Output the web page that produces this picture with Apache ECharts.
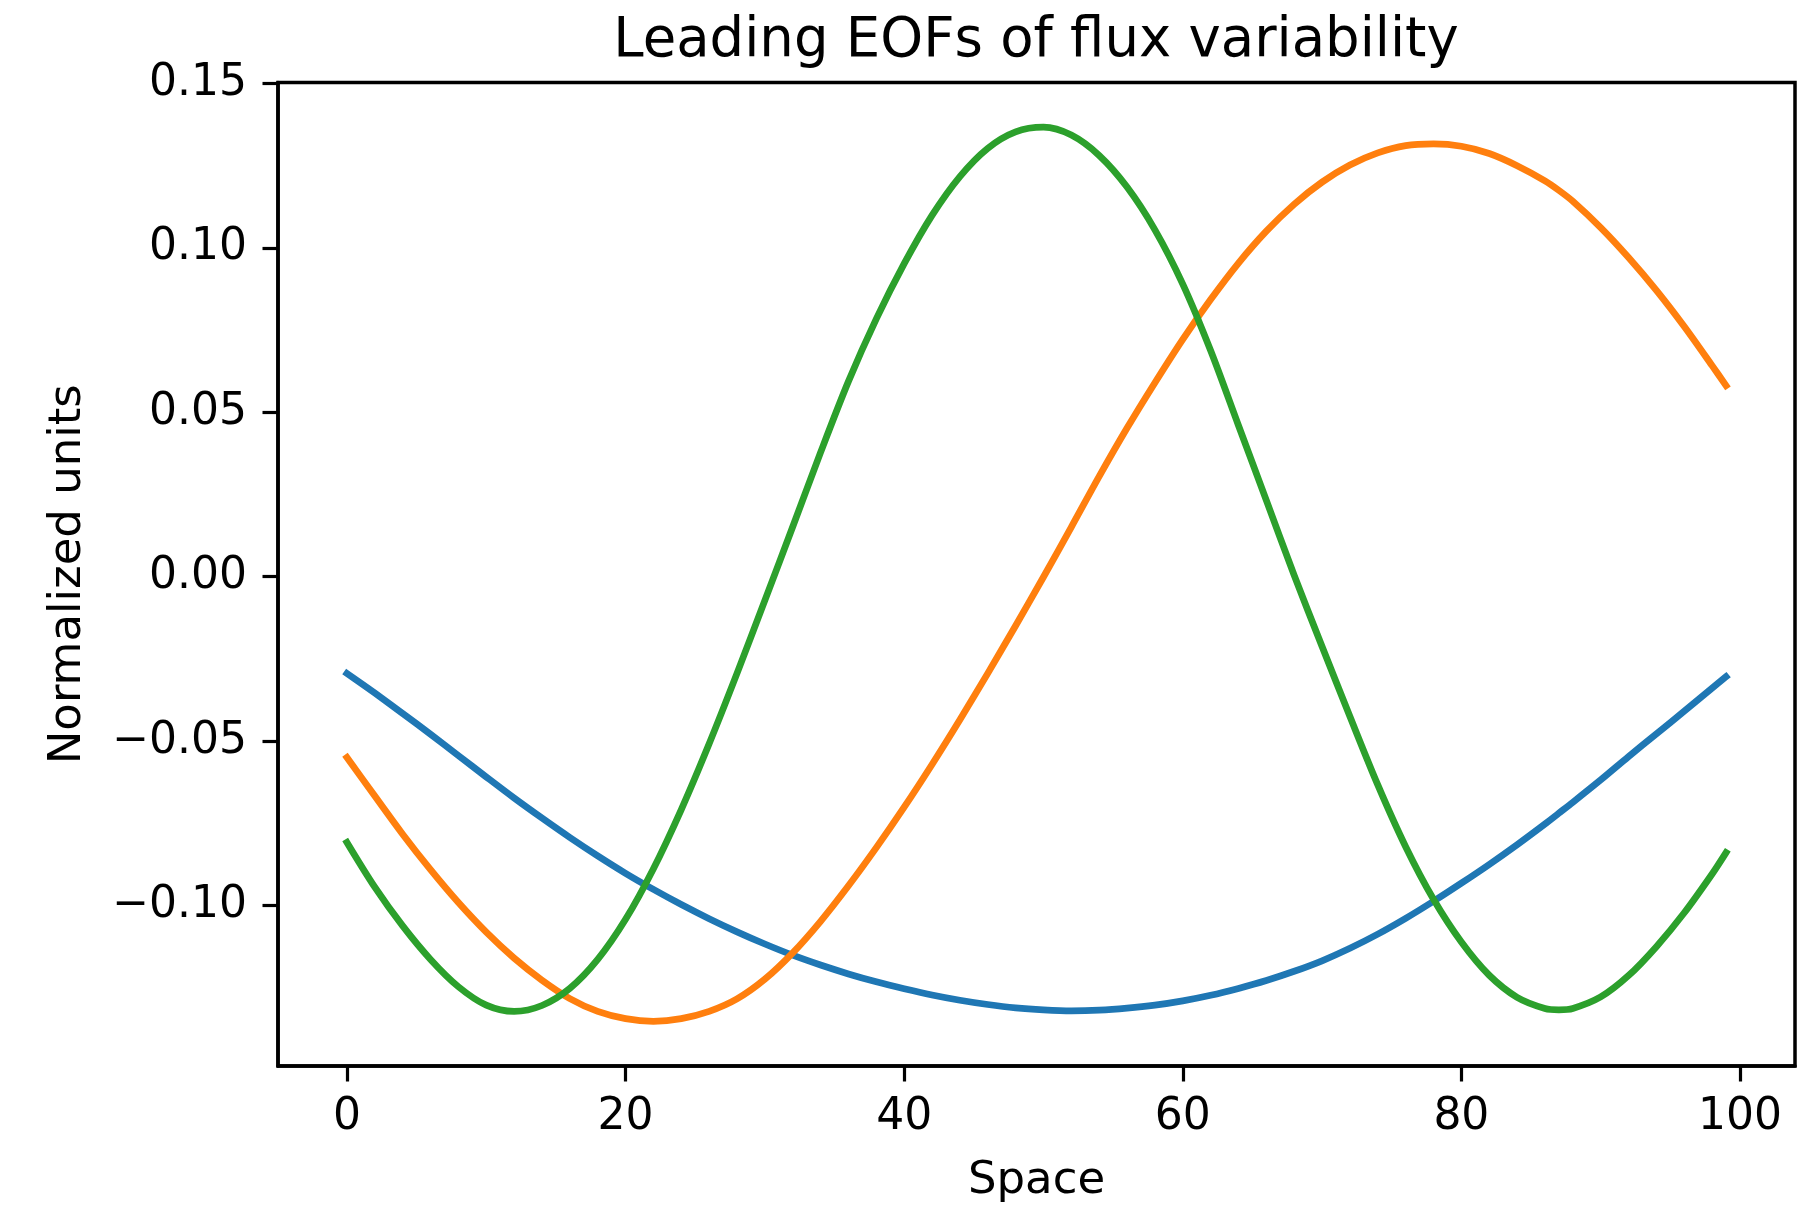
<!DOCTYPE html>
<html>
<head>
<meta charset="utf-8">
<script src="https://cdn.jsdelivr.net/npm/echarts@6/dist/echarts.min.js"></script>
<style>
html, body { margin: 0; padding: 0; background: #fff; }
#chart { width: 1819px; height: 1224px; }
</style>
</head>
<body>
<div id="chart"></div>
<script>
// Values
const space = [0, 2, 4, 6, 8, 10, 12, 14, 16, 18, 20, 22, 24, 26, 28, 30, 32, 34, 36, 38, 40, 42, 44, 46, 48, 50, 52, 54, 56, 58, 60, 62, 64, 66, 68, 70, 72, 74, 76, 78, 80, 82, 84, 86, 87, 88, 90, 92, 94, 96, 98, 99];
const eof1 = [-0.0294, -0.0354, -0.0416, -0.0479, -0.0544, -0.0609, -0.0673, -0.0734, -0.0793, -0.0849, -0.0902, -0.0951, -0.0997, -0.1040, -0.1080, -0.1117, -0.1151, -0.1181, -0.1208, -0.1232, -0.1253, -0.1272, -0.1288, -0.1301, -0.1311, -0.1317, -0.1320, -0.1318, -0.1312, -0.1303, -0.1290, -0.1273, -0.1252, -0.1228, -0.1200, -0.1168, -0.1130, -0.1087, -0.1039, -0.0987, -0.0932, -0.0875, -0.0815, -0.0752, -0.0719, -0.0686, -0.0618, -0.0547, -0.0478, -0.0409, -0.0339, -0.0304];
const eof2 = [-0.0550, -0.0667, -0.0783, -0.0891, -0.0991, -0.1081, -0.1160, -0.1227, -0.1283, -0.1322, -0.1344, -0.1352, -0.1344, -0.1322, -0.1284, -0.1224, -0.1144, -0.1048, -0.0940, -0.0824, -0.0701, -0.0571, -0.0435, -0.0294, -0.0149, -0.0001, 0.0151, 0.0305, 0.0452, 0.0590, 0.0722, 0.0843, 0.0954, 0.1051, 0.1133, 0.1200, 0.1252, 0.1289, 0.1311, 0.1316, 0.1309, 0.1287, 0.1250, 0.1204, 0.1175, 0.1142, 0.1062, 0.0971, 0.0871, 0.0761, 0.0642, 0.0581];
const eof3 = [-0.0808, -0.0944, -0.1062, -0.1164, -0.1247, -0.1303, -0.1322, -0.1304, -0.1252, -0.1164, -0.1042, -0.0888, -0.0708, -0.0508, -0.0294, -0.0072, 0.0152, 0.0378, 0.0594, 0.0784, 0.0952, 0.1099, 0.1217, 0.1303, 0.1353, 0.1367, 0.1343, 0.1281, 0.1185, 0.1055, 0.0890, 0.0688, 0.0460, 0.0232, 0.0004, -0.0212, -0.0425, -0.0633, -0.0821, -0.0981, -0.1111, -0.1212, -0.1279, -0.1313, -0.1317, -0.1313, -0.1278, -0.1213, -0.1125, -0.1022, -0.0904, -0.0839];
const xTicks = [0, 20, 40, 60, 80, 100];
const yTicks = [-0.10, -0.05, 0.00, 0.05, 0.10, 0.15];
const seriesNames = ['EOF 1', 'EOF 2', 'EOF 3'];
const seriesColors = ['#1f77b4', '#ff7f0e', '#2ca02c'];

const FONT = 'DejaVu Sans';
const chart = echarts.init(document.getElementById('chart'), null, { renderer: 'canvas' });

function pairs(vals) { return space.map((x, i) => [x, vals[i]]); }
function yFmt(v) { return (v < 0 ? '\u2212' : '') + Math.abs(v).toFixed(2); }

const axisCommon = {
  type: 'value',
  splitLine: { show: false },
  axisLine: { show: true, onZero: false, lineStyle: { color: '#000', width: 3.5 } },
  axisTick: { show: true, inside: false, length: 15.5, lineStyle: { color: '#000', width: 3.2 } },
  nameTextStyle: { fontFamily: FONT, fontSize: 45, color: '#000' }
};

chart.setOption({
  animation: false,
  backgroundColor: '#fff',
  title: {
    text: 'Leading EOFs of flux variability',
    left: 1031,
    top: 9,
    textAlign: 'center',
    textStyle: { fontFamily: FONT, fontSize: 54.5, fontWeight: 'normal', color: '#000' }
  },
  grid: {
    left: 278, top: 82.5, right: 24, bottom: 158,
    containLabel: false,
    show: true, borderColor: '#000', borderWidth: 3.5, backgroundColor: 'transparent'
  },
  xAxis: Object.assign({}, axisCommon, {
    min: -4.95, max: 103.95,
    name: 'Space', nameLocation: 'middle', nameGap: 93,
    axisTick: Object.assign({}, axisCommon.axisTick, { customValues: xTicks }),
    axisLabel: { customValues: xTicks, fontFamily: FONT, fontSize: 44, color: '#000', margin: 30 }
  }),
  yAxis: Object.assign({}, axisCommon, {
    min: -0.1488, max: 0.1503,
    name: 'Normalized units', nameLocation: 'middle', nameGap: 187,
    axisTick: Object.assign({}, axisCommon.axisTick, { customValues: yTicks }),
    axisLabel: { customValues: yTicks, formatter: yFmt, fontFamily: FONT, fontSize: 44, color: '#000', margin: 31 }
  }),
  series: [eof1, eof2, eof3].map((vals, i) => ({
    name: seriesNames[i],
    type: 'line',
    data: pairs(vals),
    smooth: 0.3,
    showSymbol: false,
    symbol: 'none',
    clip: true,
    lineStyle: { color: seriesColors[i], width: 6.75, cap: 'square', join: 'round' },
    itemStyle: { color: seriesColors[i] },
    z: 2 + i
  }))
});
</script>
</body>
</html>
